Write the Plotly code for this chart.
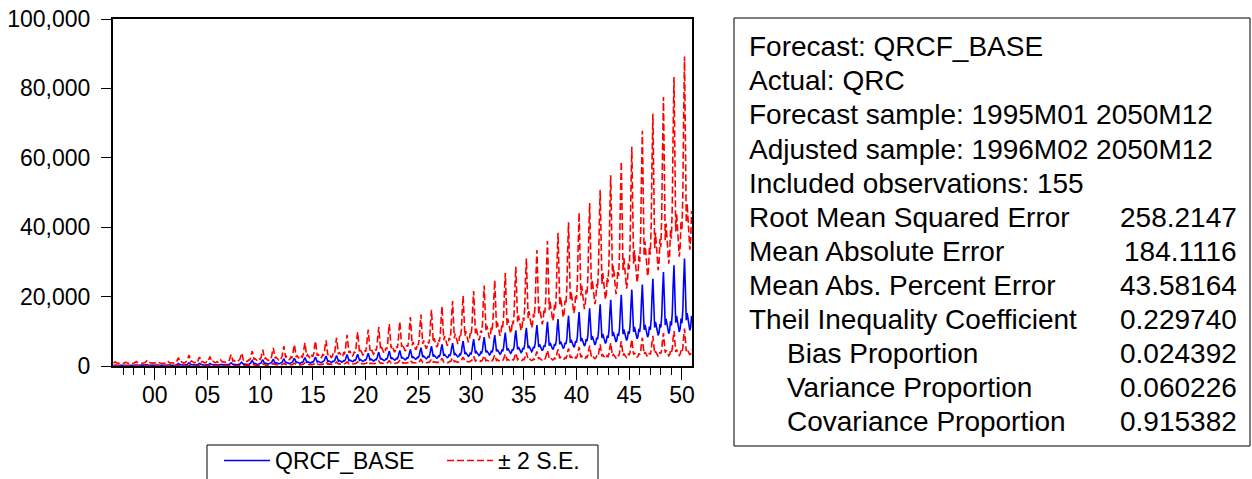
import pandas as pd
import plotly.graph_objects as go

# ---------------- data ----------------
years = list(range(1996, 2051))

# forecast QRCF_BASE: yearly seasonal peak and trough
fc_peak = [300, 350, 350, 400, 350, 400, 700, 900, 750, 700, 600, 900,
           1100, 1600, 1800, 2000, 2100, 2250, 2450, 2550, 2850, 3000, 3300, 3400,
           3700, 4000, 4300, 4500, 4750, 5300, 5700, 6200, 6600, 7200, 7750, 8300,
           8900, 9600, 10300, 11000, 11800, 12700, 13500, 14500, 15550, 16600, 17800,
           19100, 20500, 22000, 23500, 25100, 27100, 29000, 31000]
fc_trough = [150, 150, 170, 180, 180, 200, 220, 250, 250, 260, 280, 320,
             400, 450, 550, 620, 700, 780, 850, 950, 1050, 1150, 1250, 1350,
             1450, 1550, 1700, 1800, 1950, 2100, 2250, 2400, 2600, 2800, 3000, 3200,
             3400, 3650, 3900, 4150, 4450, 4750, 5050, 5400, 5750, 6100, 6500,
             6900, 7350, 7850, 8300, 8800, 9300, 9800, 10300]

# upper band (+2 S.E.)
up_peak = [1200, 1100, 1300, 1500, 1200, 1400, 2400, 3200, 2600, 2700, 1800, 3300,
           3700, 4300, 4700, 5250, 5700, 6200, 6700, 7200, 7400, 8150, 9000, 9800,
           10500, 11200, 12100, 12800, 14100, 14800, 16200, 17200, 18700, 20200, 21600, 23200,
           24700, 26800, 28600, 31000, 33400, 36000, 38400, 41400, 44200, 47000, 50800,
           55000, 58900, 63200, 67800, 72700, 77500, 83300, 89200]
up_trough = [700, 700, 750, 800, 750, 800, 850, 900, 900, 950, 1000, 1100,
             1300, 1450, 1600, 1750, 1850, 1950, 2100, 2250, 2450, 2650, 2900, 3150,
             3400, 3700, 4000, 4300, 4650, 5000, 5400, 5850, 6300, 6800, 7400, 8000,
             8700, 9400, 10200, 11000, 12000, 13000, 14000, 15200, 16400, 17800, 19200,
             20700, 22300, 24000, 25800, 27600, 29500, 31500, 33500]

# lower band (-2 S.E.)
lo_peak = [80, 100, 90, 110, 100, 110, 200, 250, 220, 180, 200, 250,
           330, 600, 690, 760, 770, 820, 900, 900, 1100, 1100, 1210, 1180,
           1300, 1430, 1540, 1600, 1600, 1920, 2000, 2230, 2330, 2570, 2780, 2970,
           3200, 3440, 3710, 3900, 4170, 4480, 4750, 5080, 5470, 5860, 6240,
           6630, 7130, 7660, 8150, 8670, 9480, 10100, 10770]
lo_trough = [30, 30, 40, 40, 40, 50, 55, 70, 70, 70, 80, 90,
             120, 140, 190, 220, 260, 310, 340, 400, 450, 500, 540, 580,
             620, 650, 720, 750, 820, 880, 940, 980, 1070, 1150, 1220, 1280,
             1330, 1420, 1490, 1570, 1650, 1740, 1820, 1920, 2020, 2090, 2200,
             2300, 2420, 2570, 2670, 2810, 2930, 3050, 3170]

# monthly seasonal shape (Jan..Dec), share of the trough-to-peak range
season = [0.10, 0.28, 0.68, 1.0, 0.58, 0.14, 0.24, 0.14, 0.03, 0.0, 0.05, 0.20]

stats_labels = ["Forecast: QRCF_BASE", "Actual: QRC",
                "Forecast sample: 1995M01 2050M12",
                "Adjusted sample: 1996M02 2050M12",
                "Included observations: 155",
                "Root Mean Squared Error", "Mean Absolute Error",
                "Mean Abs. Percent Error", "Theil Inequality Coefficient",
                "Bias Proportion", "Variance Proportion", "Covariance Proportion"]
stats_values = ["", "", "", "", "", "258.2147", "184.1116", "43.58164",
                "0.229740", "0.024392", "0.060226", "0.915382"]
stats_indent = [False] * 9 + [True] * 3


def monthly(peak, trough):
    dates, vals = [], []
    for i, y in enumerate(years):
        for m in range(12):
            if y == 1996 and m == 0:
                continue  # adjusted sample starts 1996M02
            dates.append(pd.Timestamp(year=y, month=m + 1, day=1))
            vals.append(trough[i] + season[m] * (peak[i] - trough[i]))
    return dates, vals


x, fc = monthly(fc_peak, fc_trough)
_, up = monthly(up_peak, up_trough)
_, lo = monthly(lo_peak, lo_trough)

# ---------------- figure ----------------
W, H = 1252, 479
L, R, T, B = 113, 692, 19, 366
PW, PH = R - L, B - T


def pxx(px):
    return (px - L) / PW


def pxy(py):
    return (B - py) / PH


FONT = "Liberation Sans, Arial, sans-serif"
fig = go.Figure()
fig.add_trace(go.Scatter(x=x, y=fc, mode="lines", name="QRCF_BASE",
                         line=dict(color="#0000FF", width=1.6)))
fig.add_trace(go.Scatter(x=x, y=up, mode="lines", name="± 2 S.E.",
                         line=dict(color="#FF0000", width=1.6, dash="7px,3px")))
fig.add_trace(go.Scatter(x=x, y=lo, mode="lines", name="lower", showlegend=False,
                         line=dict(color="#FF0000", width=1.6, dash="7px,3px")))

fig.update_layout(
    width=W, height=H,
    margin=dict(l=L, r=W - R, t=T, b=H - B, autoexpand=False),
    paper_bgcolor="white", plot_bgcolor="white",
    font=dict(family=FONT, size=23, color="black"),
    showlegend=True,
    legend=dict(orientation="h", x=pxx(219), y=pxy(439), xanchor="left", yanchor="top",
                borderwidth=0, bgcolor="rgba(0,0,0,0)",
                font=dict(size=23), itemwidth=46, entrywidth=162),
)
fig.update_xaxes(
    type="date", range=["1996-01-16", "2050-12-16"],
    tick0="2000-01-01", dtick="M60", tickformat="%y",
    ticks="outside", ticklen=12, tickwidth=1, tickcolor="black",
    ticklabelstandoff=-5,
    minor=dict(dtick="M12", tick0="2000-01-01", ticks="outside", ticklen=7,
               tickwidth=1, tickcolor="black"),
    showgrid=False, zeroline=False,
    showline=True, linecolor="black", linewidth=2, mirror=True,
    tickfont=dict(size=23),
)
fig.update_yaxes(
    range=[0, 100000], dtick=20000, tickformat=",d",
    ticks="outside", ticklen=10, tickwidth=1, tickcolor="black",
    ticklabelstandoff=6,
    showgrid=False, zeroline=False,
    showline=True, linecolor="black", linewidth=2, mirror=True,
    tickfont=dict(size=23),
)

# legend frame (the legend box runs past the bottom edge, as in the reference)
fig.add_shape(type="rect", xref="paper", yref="paper", layer="below",
              x0=pxx(207), x1=pxx(598), y0=pxy(495), y1=pxy(445),
              line=dict(color="black", width=1), fillcolor="white")

# statistics box
fig.add_shape(type="rect", xref="paper", yref="paper",
              x0=pxx(734), x1=pxx(1250), y0=pxy(446), y1=pxy(18),
              line=dict(color="black", width=1), fillcolor="white")
for i, (lab, val, ind) in enumerate(zip(stats_labels, stats_values, stats_indent)):
    yc = 46.7 + 34.1 * i
    fig.add_annotation(xref="paper", yref="paper", x=pxx(785 if ind else 747), y=pxy(yc),
                       text=lab, showarrow=False, xanchor="left", yanchor="middle",
                       font=dict(size=28, family=FONT, color="black"))
    if val:
        fig.add_annotation(xref="paper", yref="paper", x=pxx(1239), y=pxy(yc),
                           text=val, showarrow=False, xanchor="right", yanchor="middle",
                           font=dict(size=28, family=FONT, color="black"))

fig.write_html("out.html")
